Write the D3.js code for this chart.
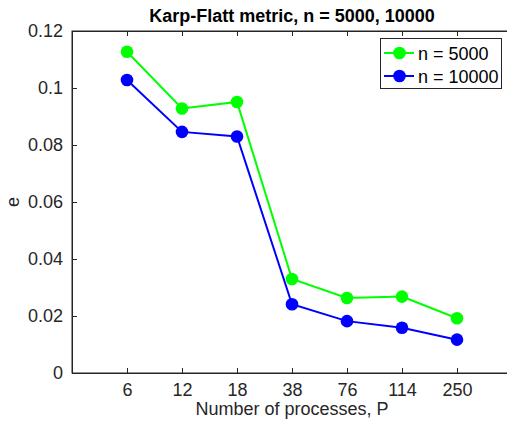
<!DOCTYPE html>
<html><head><meta charset="utf-8">
<script src="https://cdn.jsdelivr.net/npm/d3@7"></script>
<style>body{margin:0;background:#fff}svg{display:block;font-family:"Liberation Sans",Arial,sans-serif}</style>
</head><body>
<svg id="c" width="507" height="423"></svg>
<script>
const categories = ["6","12","18","38","76","114","250"];
const n5000 = [0.1127,0.0928,0.0951,0.0330,0.0263,0.0268,0.0192];
const n10000 = [0.1028,0.0846,0.0830,0.0241,0.0182,0.0159,0.0117];
const yTicks = [0,0.02,0.04,0.06,0.08,0.1,0.12];
const seriesNames = ["n = 5000","n = 10000"];
const seriesColors = ["#00ff00","#0000ff"];

const svg = d3.select("#c");
const L=72, R=512, T=31, B=373;
const x = d3.scaleLinear().domain([0,8]).range([L,R]);
const y = d3.scaleLinear().domain([0,0.12]).range([B,T]);
const axc="#262626";
const FS="18px";

svg.append("rect").attr("x",L).attr("y",T).attr("width",R-L).attr("height",B-T)
 .attr("fill","none").attr("stroke",axc).attr("stroke-width",1);

const xa = d3.axisBottom(x).tickValues(d3.range(1,8)).tickFormat(i=>categories[i-1]).tickSizeInner(-5).tickSizeOuter(0).tickPadding(10);
const gx = svg.append("g").attr("transform",`translate(0,${B})`).call(xa);
gx.select(".domain").attr("stroke",axc);
gx.selectAll(".tick line").attr("stroke",axc);
gx.selectAll("text").attr("fill",axc).style("font-size",FS).style("font-family","Liberation Sans, Arial, sans-serif");
const gxt = svg.append("g").attr("transform",`translate(0,${T})`).call(d3.axisTop(x).tickValues(d3.range(1,8)).tickSizeInner(-5).tickSizeOuter(0).tickFormat(""));
gxt.select(".domain").attr("stroke",axc);
gxt.selectAll(".tick line").attr("stroke",axc);

const ya = d3.axisLeft(y).tickValues(yTicks).tickFormat(d=>d3.format("")(+d.toFixed(2))).tickSizeInner(-5).tickSizeOuter(0).tickPadding(9);
const gy = svg.append("g").attr("transform",`translate(${L},0)`).call(ya);
gy.select(".domain").attr("stroke",axc);
gy.selectAll(".tick line").attr("stroke",axc);
gy.selectAll("text").attr("fill",axc).style("font-size",FS).style("font-family","Liberation Sans, Arial, sans-serif");

const data=[n5000,n10000];
data.forEach((s,k)=>{
  const line=d3.line().x((d,i)=>x(i+1)).y(d=>y(d));
  svg.append("path").datum(s).attr("d",line).attr("fill","none").attr("stroke",seriesColors[k]).attr("stroke-width",2);
  svg.selectAll(null).data(s).enter().append("circle").attr("cx",(d,i)=>x(i+1)).attr("cy",d=>y(d)).attr("r",6.3).attr("fill",seriesColors[k]);
});

svg.append("text").attr("x",(L+R)/2).attr("y",22).attr("text-anchor","middle").attr("font-weight","bold").attr("font-size","18px").attr("fill","#000").text("Karp-Flatt metric, n = 5000, 10000");
svg.append("text").attr("x",(L+R)/2).attr("y",415).attr("text-anchor","middle").attr("font-size",FS).attr("fill",axc).text("Number of processes, P");
svg.append("text").attr("transform","translate(19,202) rotate(-90)").attr("text-anchor","middle").attr("font-size",FS).attr("fill",axc).text("e");

const lg=svg.append("g");
lg.append("rect").attr("x",380.5).attr("y",38.5).attr("width",121).attr("height",50).attr("fill","#fff").attr("stroke",axc).attr("stroke-width",1);
seriesNames.forEach((nm,k)=>{
  const yy=53+k*23;
  lg.append("line").attr("x1",384).attr("x2",414).attr("y1",yy).attr("y2",yy).attr("stroke",seriesColors[k]).attr("stroke-width",2);
  lg.append("circle").attr("cx",399.5).attr("cy",yy).attr("r",6.3).attr("fill",seriesColors[k]);
  lg.append("text").attr("x",418).attr("y",yy+6.5).attr("font-size",FS).attr("fill","#000").text(nm);
});
</script>
</body></html>
